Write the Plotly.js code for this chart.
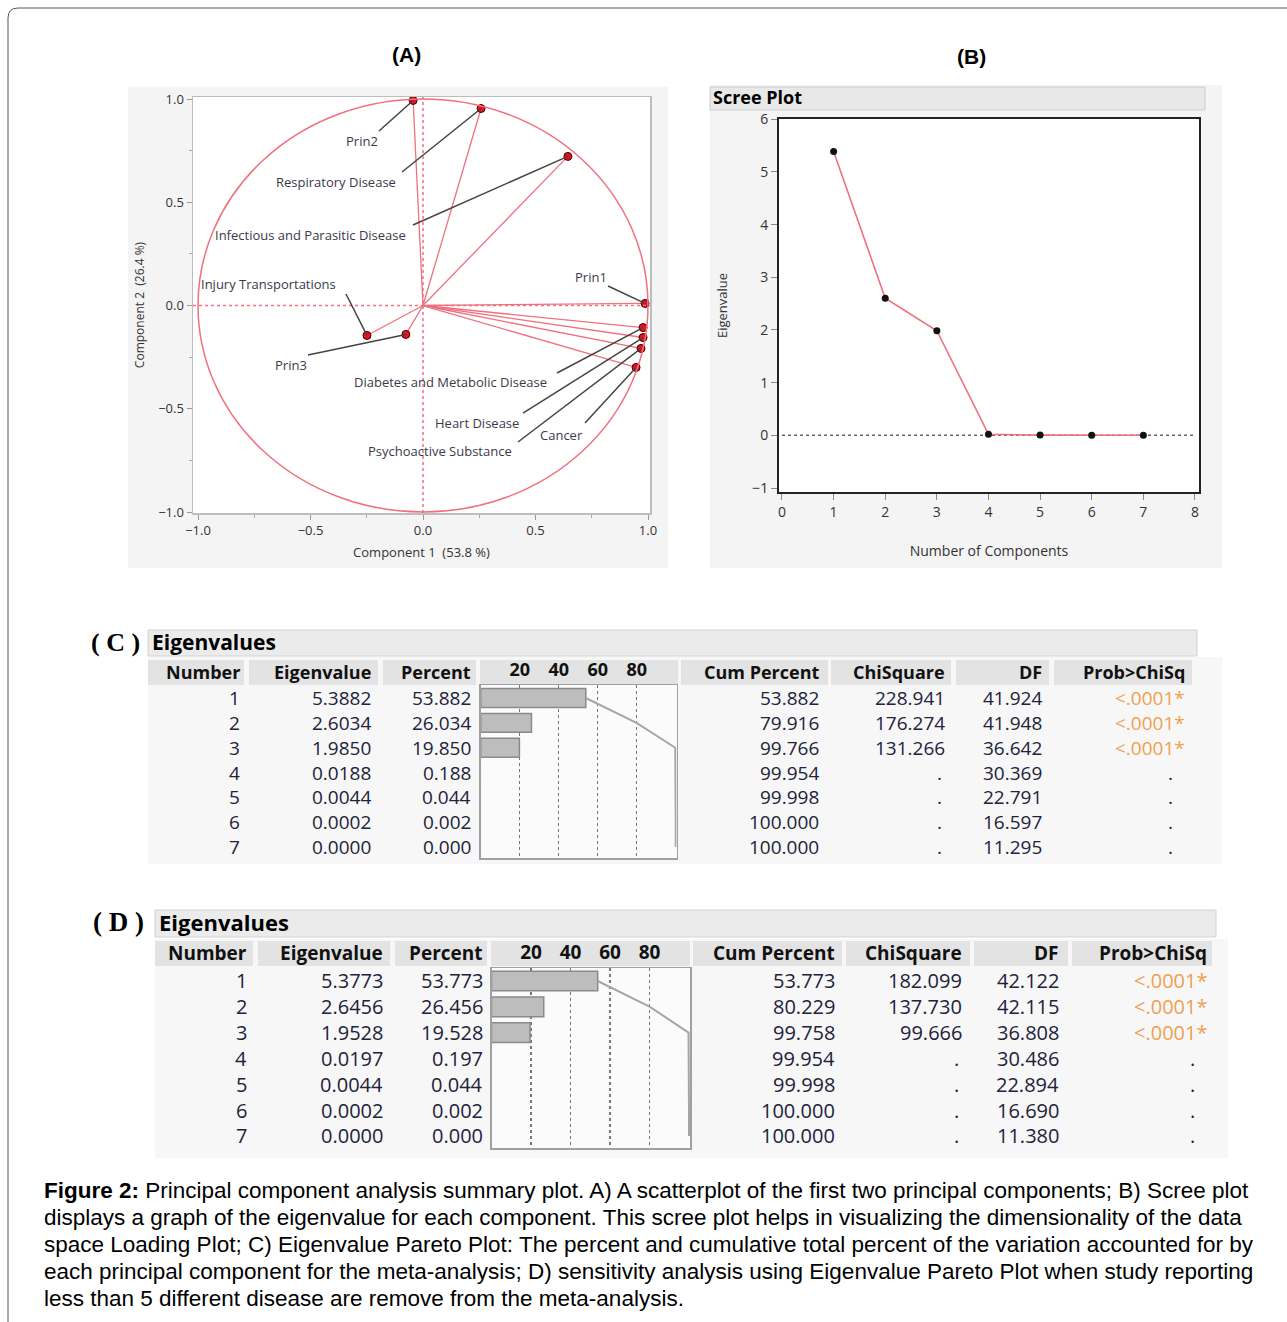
<!DOCTYPE html>
<html><head><meta charset="utf-8">
<script src="https://cdn.plot.ly/plotly-3.0.1.min.js"></script>
<style>html,body{margin:0;padding:0;background:#fff;}#chart{width:1287px;height:1322px;}</style>
</head><body><div id="chart"></div>
<script>
// ---------------- DATA ----------------
const loadingNames = ['Prin1','Prin2','Prin3','Respiratory Disease','Infectious and Parasitic Disease','Injury Transportations','Diabetes and Metabolic Disease','Heart Disease','Psychoactive Substance','Cancer'];
const loadingX = [0.987, -0.044, -0.076, 0.258, 0.644, -0.249, 0.978, 0.978, 0.969, 0.947];
const loadingY = [0.010, 0.993, -0.140, 0.954, 0.722, -0.145, -0.107, -0.155, -0.208, -0.300];

const componentNumbers = [1, 2, 3, 4, 5, 6, 7];
const screeEigenvalues = [5.3882, 2.6034, 1.9850, 0.0188, 0.0044, 0.0002, 0.0000];

const eigenC   = [5.3882, 2.6034, 1.9850, 0.0188, 0.0044, 0.0002, 0.0000];
const percentC = [53.882, 26.034, 19.850, 0.188, 0.044, 0.002, 0.000];
const cumC     = [53.882, 79.916, 99.766, 99.954, 99.998, 100.000, 100.000];
const chiC     = [228.941, 176.274, 131.266, null, null, null, null];
const dfC      = [41.924, 41.948, 36.642, 30.369, 22.791, 16.597, 11.295];
const probC    = ['<.0001*', '<.0001*', '<.0001*', '.', '.', '.', '.'];

const eigenD   = [5.3773, 2.6456, 1.9528, 0.0197, 0.0044, 0.0002, 0.0000];
const percentD = [53.773, 26.456, 19.528, 0.197, 0.044, 0.002, 0.000];
const cumD     = [53.773, 80.229, 99.758, 99.954, 99.998, 100.000, 100.000];
const chiD     = [182.099, 137.730, 99.666, null, null, null, null];
const dfD      = [42.122, 42.115, 36.808, 30.486, 22.894, 16.690, 11.380];
const probD    = ['<.0001*', '<.0001*', '<.0001*', '.', '.', '.', '.'];

const paretoTicks = [20, 40, 60, 80];
const tableHeaders = ['Number', 'Eigenvalue', 'Percent', 'Cum Percent', 'ChiSquare', 'DF', 'Prob>ChiSq'];
const captionLines = [
  '<b>Figure 2:</b> Principal component analysis summary plot. A) A scatterplot of the first two principal components; B) Scree plot',
  'displays a graph of the eigenvalue for each component. This scree plot helps in visualizing the dimensionality of the data',
  'space Loading Plot; C) Eigenvalue Pareto Plot: The percent and cumulative total percent of the variation accounted for by',
  'each principal component for the meta-analysis; D) sensitivity analysis using Eigenvalue Pareto Plot when study reporting',
  'less than 5 different disease are remove from the meta-analysis.'
];

// ---------------- LAYOUT HELPERS ----------------
const W = 1287, H = 1322;
const PX = x => x / W;
const PY = y => 1 - y / H;
const UI = 'Open Sans, Noto Sans, sans-serif';
const RED = '#f0707e';

// panel A pixel->data (for leader-line starts only)
const aX = p => (p - 423) / 225;
const aY = p => (305.5 - p) / 206.5;

const labelPos = { // pixel centre of label text, pixel start of leader line
  'Prin1': [591, 277, 608, 286],
  'Prin2': [362, 141, 379, 131],
  'Prin3': [291, 365, 308, 355],
  'Respiratory Disease': [336, 182, 402, 172],
  'Infectious and Parasitic Disease': [310, 235, 413, 225],
  'Injury Transportations': [268, 284, 346, 294],
  'Diabetes and Metabolic Disease': [450, 382, 557, 373],
  'Heart Disease': [477, 423, 523, 413],
  'Psychoactive Substance': [440, 451, 518, 442],
  'Cancer': [561, 435, 585, 423]
};

const traces = [];
const shapes = [];
const annotations = [];

// ---------- backgrounds ----------
function rectPx(x0, y0, x1, y1, fill, line, lw) {
  shapes.push({type: 'rect', xref: 'paper', yref: 'paper', layer: 'below',
    x0: PX(x0), x1: PX(x1), y0: PY(y1), y1: PY(y0),
    fillcolor: fill, line: {color: line || fill, width: lw || 0}});
}
rectPx(128, 87, 668, 568, '#f4f4f4');
rectPx(193, 97, 650, 513, '#ffffff');
rectPx(710, 85, 1222, 568, '#f4f4f4');
rectPx(710, 87, 1205, 110, '#e8e8e8', '#cdcdcd', 1);
rectPx(779, 119, 1199, 492, '#ffffff');

// figure frame (left + top with rounded corner)
shapes.push({type: 'path', xref: 'paper', yref: 'paper', layer: 'above',
  path: `M ${PX(8)},${PY(1322)} L ${PX(8)},${PY(18)} Q ${PX(8)},${PY(8)} ${PX(18)},${PY(8)} L ${PX(1287)},${PY(8)}`,
  line: {color: '#555', width: 1}});

// ---------- Panel A ----------
const vecX = [], vecY = [];
loadingX.forEach((x, i) => { vecX.push(0, x, null); vecY.push(0, loadingY[i], null); });
traces.push({type: 'scatter', mode: 'lines', x: vecX, y: vecY, xaxis: 'x', yaxis: 'y',
  line: {color: RED, width: 1.3}, hoverinfo: 'skip'});
shapes.push({type: 'circle', xref: 'x', yref: 'y', x0: -1, x1: 1, y0: -1, y1: 1, line: {color: RED, width: 1.5}});
shapes.push({type: 'line', xref: 'x', yref: 'y', x0: -1.0222, x1: 1.0089, y0: 0, y1: 0, line: {color: RED, width: 1.5, dash: 'dot'}});
shapes.push({type: 'line', xref: 'x', yref: 'y', x0: 0, x1: 0, y0: -1.0048, y1: 1.0097, line: {color: RED, width: 1.5, dash: 'dot'}});
loadingNames.forEach((n, i) => {
  const p = labelPos[n];
  shapes.push({type: 'line', xref: 'x', yref: 'y', x0: aX(p[2]), y0: aY(p[3]), x1: loadingX[i], y1: loadingY[i],
    line: {color: '#444', width: 1.5}});
  annotations.push({xref: 'paper', yref: 'paper', x: PX(p[0]), y: PY(p[1]), text: n, showarrow: false,
    xanchor: 'center', yanchor: 'middle', font: {family: UI, size: 13, color: '#3a3a4a'}});
});
traces.push({type: 'scatter', mode: 'markers', x: loadingX, y: loadingY, text: loadingNames, xaxis: 'x', yaxis: 'y',
  marker: {color: '#e8111f', size: 8, line: {color: '#3a0000', width: 1}}});

// ---------- Panel B ----------
shapes.push({type: 'line', xref: 'x2', yref: 'y2', x0: 0, x1: 8, y0: 0, y1: 0, layer: 'below',
  line: {color: '#666', width: 1.5, dash: 'dot'}});
traces.push({type: 'scatter', mode: 'lines+markers', x: componentNumbers, y: screeEigenvalues, xaxis: 'x2', yaxis: 'y2',
  line: {color: RED, width: 1.6}, marker: {color: '#111', size: 7}});

// ---------- Tables C & D ----------
function buildTable(t) {
  rectPx(t.left, t.barTop, t.barRight, t.barBottom, '#ebebeb', '#d2d2d2', 1);
  rectPx(t.left, t.bodyTop, t.bodyRight, t.bodyBottom, '#f7f7f7');
  t.cells.forEach(c => rectPx(c[0], t.hdrTop, c[1], t.hdrBottom, '#e3e3e3'));
  rectPx(t.plotL, t.plotT, t.plotR, t.plotB, '#fbfbfb');

  annotations.push({xref: 'paper', yref: 'paper', x: PX(t.tagX), y: PY(t.titleY), text: t.tag, showarrow: false,
    xanchor: 'center', yanchor: 'middle', font: {family: 'Liberation Serif, serif', size: t.tagSize, color: '#000', weight: 'bold'}});
  annotations.push({xref: 'paper', yref: 'paper', x: PX(t.titleX), y: PY(t.titleY), text: '<b>Eigenvalues</b>', showarrow: false,
    xanchor: 'left', yanchor: 'middle', font: {family: UI, size: t.titleSize, color: '#000'}});

  const headerRights = [t.rights[0], t.rights[1], t.rights[2], t.rights[4], t.rights[5], t.rights[6], t.rights[7]];
  tableHeaders.forEach((h, k) => {
    annotations.push({xref: 'paper', yref: 'paper', x: PX(headerRights[k]), y: PY(t.hdrY),
      text: '<b>' + h.replace('>', '&gt;') + '</b>', showarrow: false, xanchor: 'right', yanchor: 'middle',
      font: {family: UI, size: t.hdrSize, color: '#111'}});
  });

  const cols = [
    componentNumbers.map(String),
    t.eigen.map(v => v.toFixed(4)),
    t.percent.map(v => v.toFixed(3)),
    null,
    t.cum.map(v => v.toFixed(3)),
    t.chi.map(v => v === null ? '.' : v.toFixed(3)),
    t.df.map(v => v.toFixed(3)),
    t.prob
  ];
  cols.forEach((col, k) => {
    if (!col) return;
    col.forEach((txt, r) => {
      const isProbVal = (k === 7 && txt !== '.');
      let shift = 0;
      if (txt === '.') shift = (k === 7) ? -12 : -3;
      annotations.push({xref: 'paper', yref: t.yref, x: PX(t.rights[k]), y: componentNumbers[r],
        text: txt.replace('<', '&lt;'), showarrow: false, xanchor: 'right', yanchor: 'middle', xshift: shift,
        font: {family: UI, size: t.valSize, color: isProbVal ? '#f0a050' : '#22223a'}});
    });
  });

  traces.push({type: 'bar', orientation: 'h', x: t.percent, y: componentNumbers, xaxis: t.xa, yaxis: t.ya, width: 0.76,
    marker: {color: '#bdbdbd', line: {color: '#8a8a8a', width: t.percent.map(v => v >= 1 ? 1.5 : 0)}}});
  traces.push({type: 'scatter', mode: 'lines', x: t.cum, y: componentNumbers, xaxis: t.xa, yaxis: t.ya,
    line: {color: '#a6a6a6', width: 2}});
}

buildTable({
  tag: '( C )', tagX: 115, tagSize: 26, titleX: 150, titleY: 642, titleSize: 21,
  left: 148, barTop: 630, barRight: 1197, barBottom: 656,
  bodyTop: 657, bodyRight: 1222, bodyBottom: 864,
  hdrTop: 660, hdrBottom: 685, hdrY: 672, hdrSize: 18, valSize: 19,
  cells: [[148, 244], [249, 378], [383, 476], [480, 678], [681, 828], [831, 951], [956, 1049], [1054, 1192]],
  rights: [242, 373, 473, null, 821, 947, 1044, 1187],
  plotL: 480.7, plotT: 685, plotR: 676.5, plotB: 858,
  eigen: eigenC, percent: percentC, cum: cumC, chi: chiC, df: dfC, prob: probC,
  xa: 'x3', ya: 'y3', yref: 'y3'
});
buildTable({
  tag: '( D )', tagX: 118, tagSize: 27, titleX: 157, titleY: 922, titleSize: 22,
  left: 155, barTop: 910, barRight: 1216, barBottom: 937,
  bodyTop: 939, bodyRight: 1228, bodyBottom: 1158,
  hdrTop: 941, hdrBottom: 966, hdrY: 953, hdrSize: 19, valSize: 20,
  cells: [[155, 253], [258, 390], [395, 487], [491, 690], [693, 842], [846, 970], [974, 1068], [1072, 1212]],
  rights: [249, 385, 485, null, 837, 964, 1061, 1209],
  plotL: 491.5, plotT: 968, plotR: 690, plotB: 1148,
  eigen: eigenD, percent: percentD, cum: cumD, chi: chiD, df: dfD, prob: probD,
  xa: 'x4', ya: 'y4', yref: 'y4'
});

// ---------- Panel titles & caption ----------
annotations.push({xref: 'paper', yref: 'paper', x: PX(406), y: PY(55), text: '<b>(A)</b>', showarrow: false,
  xanchor: 'center', yanchor: 'middle', font: {family: 'Liberation Sans, Arial, sans-serif', size: 21, color: '#000'}});
annotations.push({xref: 'paper', yref: 'paper', x: PX(971), y: PY(57), text: '<b>(B)</b>', showarrow: false,
  xanchor: 'center', yanchor: 'middle', font: {family: 'Liberation Sans, Arial, sans-serif', size: 21, color: '#000'}});
annotations.push({xref: 'paper', yref: 'paper', x: PX(711), y: PY(97), text: '<b>Scree Plot</b>', showarrow: false,
  xanchor: 'left', yanchor: 'middle', font: {family: UI, size: 18, color: '#000'}});
captionLines.forEach((line, i) => {
  annotations.push({xref: 'paper', yref: 'paper', x: PX(42), y: PY(1190 + i * 27), text: line, showarrow: false,
    xanchor: 'left', yanchor: 'middle', align: 'left',
    font: {family: 'Liberation Sans, Arial, sans-serif', size: 22.5, color: '#000'}});
});

// ---------- Axes ----------
const tickF = {family: UI, size: 13, color: '#333'};
const layout = {
  width: W, height: H, margin: {l: 0, r: 0, t: 0, b: 0},
  paper_bgcolor: '#ffffff', plot_bgcolor: 'rgba(0,0,0,0)', showlegend: false,
  xaxis: {domain: [PX(193), PX(650)], range: [-1.0222, 1.0089], anchor: 'y', tick0: -1, dtick: 0.5, tickformat: '.1f',
    ticks: 'outside', ticklen: 5, tickcolor: '#999', showline: true, mirror: true, linecolor: '#bdbdbd', linewidth: 1.5,
    showgrid: false, zeroline: false, tickfont: tickF,
    minor: {ticks: 'outside', ticklen: 3, tick0: -1, dtick: 0.25, tickcolor: '#aaa', showgrid: false},
    title: {text: 'Component 1  (53.8 %)', font: {family: UI, size: 13, color: '#333'}, standoff: 10}},
  yaxis: {domain: [PY(513), PY(97)], range: [-1.0048, 1.0097], anchor: 'x', tick0: -1, dtick: 0.5, tickformat: '.1f',
    ticks: 'outside', ticklen: 5, tickcolor: '#999', showline: true, mirror: true, linecolor: '#bdbdbd', linewidth: 1.5,
    showgrid: false, zeroline: false, tickfont: tickF,
    minor: {ticks: 'outside', ticklen: 3, tick0: -1, dtick: 0.25, tickcolor: '#aaa', showgrid: false},
    title: {text: 'Component 2  (26.4 %)', font: {family: UI, size: 12, color: '#333'}, standoff: 11}},
  xaxis2: {domain: [PX(779), PX(1199)], range: [-0.058, 8.078], anchor: 'y2', tick0: 0, dtick: 1,
    ticks: 'outside', ticklen: 6, tickcolor: '#888', showline: true, mirror: true, linecolor: '#222', linewidth: 2,
    showgrid: false, zeroline: false, tickfont: {family: UI, size: 14, color: '#333'},
    title: {text: 'Number of Components', font: {family: UI, size: 14, color: '#333'}, standoff: 26}},
  yaxis2: {domain: [PY(492), PY(119)], range: [-1.076, 6.005], anchor: 'x2', tick0: 0, dtick: 1,
    ticks: 'outside', ticklen: 6, tickcolor: '#888', showline: true, mirror: true, linecolor: '#222', linewidth: 2,
    showgrid: false, zeroline: false, tickfont: {family: UI, size: 14, color: '#333'},
    title: {text: 'Eigenvalue', font: {family: UI, size: 13, color: '#333'}, standoff: 22}},
  xaxis3: {domain: [PX(480.7), PX(676.5)], range: [0, 100.4], anchor: 'y3', side: 'top', tickvals: paretoTicks,
    ticks: '', showgrid: true, gridcolor: '#777', griddash: 'dot', gridwidth: 1.3, showline: true, mirror: true,
    linecolor: '#a0a0a0', linewidth: 1.5, zeroline: false,
    tickfont: {family: UI, size: 18, color: '#111', weight: 'bold'}},
  yaxis3: {domain: [PY(858), PY(685)], range: [7.44, 0.476], anchor: 'x3', showticklabels: false, ticks: '',
    showgrid: false, zeroline: false, showline: true, mirror: true, linecolor: '#a0a0a0', linewidth: 1.5},
  xaxis4: {domain: [PX(491.5), PX(690)], range: [0, 100.5], anchor: 'y4', side: 'top', tickvals: paretoTicks,
    ticks: '', showgrid: true, gridcolor: '#777', griddash: 'dot', gridwidth: 1.3, showline: true, mirror: true,
    linecolor: '#a0a0a0', linewidth: 1.5, zeroline: false,
    tickfont: {family: UI, size: 19, color: '#111', weight: 'bold'}},
  yaxis4: {domain: [PY(1148), PY(968)], range: [7.465, 0.497], anchor: 'x4', showticklabels: false, ticks: '',
    showgrid: false, zeroline: false, showline: true, mirror: true, linecolor: '#a0a0a0', linewidth: 1.5},
  shapes: shapes,
  annotations: annotations
};

Plotly.newPlot('chart', traces, layout, {displayModeBar: false, staticPlot: true});
</script>
</body></html>
